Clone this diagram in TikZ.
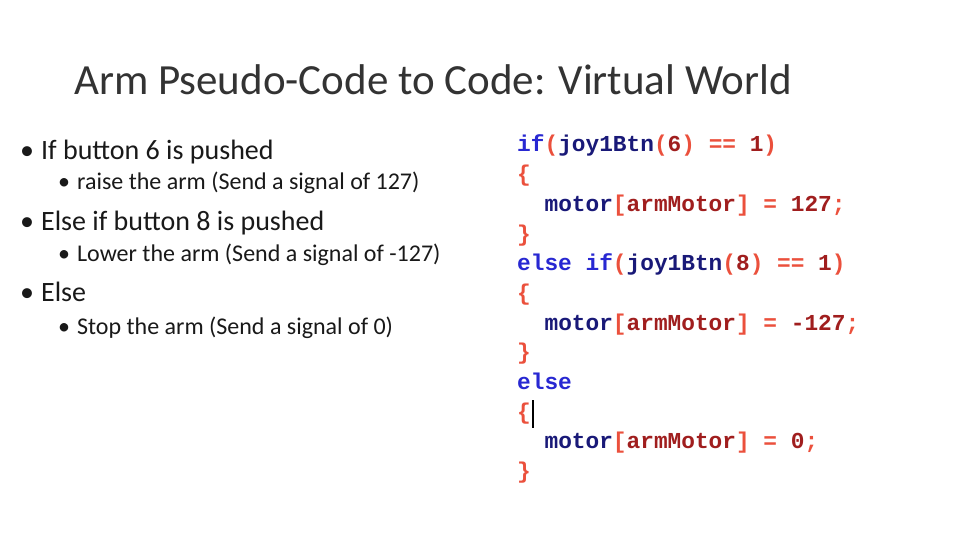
\documentclass[tikz,border=0pt]{standalone}
\usepackage{fontspec}
\setmainfont{Carlito}
\newfontfamily\codefont{Liberation Mono}
\definecolor{kw}{RGB}{40,40,210}
\definecolor{fn}{RGB}{25,25,120}
\definecolor{pu}{RGB}{235,80,60}
\definecolor{nu}{RGB}{160,30,30}
\newcommand{\K}[1]{\textcolor{kw}{#1}}
\newcommand{\F}[1]{\textcolor{fn}{#1}}
\newcommand{\Pu}[1]{\textcolor{pu}{#1}}
\newcommand{\N}[1]{\textcolor{nu}{#1}}
\begin{document}
\begin{tikzpicture}[x=1pt,y=1pt,
  title/.style={anchor=base west,inner sep=0,font=\fontsize{43}{48}\selectfont,text=black!80},
  b1/.style={anchor=base west,inner sep=0,font=\fontsize{28}{32}\selectfont,text=black!90},
  b2/.style={anchor=base west,inner sep=0,font=\fontsize{24}{28}\selectfont,text=black!90},
  code/.style={anchor=base west,inner sep=0,font=\codefont\bfseries\fontsize{22.8}{26}\selectfont}]
\useasboundingbox (0,0) rectangle (960,540);
\fill[white] (0,0) rectangle (960,540);
\node[title] (t) at (74,445) {Arm Pseudo-Code to Code: Virtual World};
\node[b1] (a1) at (20,380) {•\hspace{7pt}If button 6 is pushed};
\node[b2] (a2) at (58,350) {•\hspace{7pt}raise the arm (Send a signal of 127)};
\node[b1] (a3) at (20,309) {•\hspace{7pt}Else if button 8 is pushed};
\node[b2] (a4) at (58,278) {•\hspace{7pt}Lower the arm (Send a signal of -127)};
\node[b1] (a5) at (20,238) {•\hspace{7pt}Else};
\node[b2] (a6) at (58,205) {•\hspace{7pt}Stop the arm (Send a signal of 0)};
\def\cx{517}
\node[code] (c1) at (\cx,388) {\K{if}\Pu{(}\F{joy1Btn}\Pu{(}\N{6}\Pu{)} \Pu{==} \N{1}\Pu{)}};
\node[code] (c2) at (\cx,358.3) {\Pu{\{}};
\node[code] (c3) at (\cx,328.6) {\phantom{xx}\F{motor}\Pu{[}\N{armMotor}\Pu{]} \Pu{=} \N{127}\Pu{;}};
\node[code] (c4) at (\cx,298.9) {\Pu{\}}};
\node[code] (c5) at (\cx,269.2) {\K{else} \K{if}\Pu{(}\F{joy1Btn}\Pu{(}\N{8}\Pu{)} \Pu{==} \N{1}\Pu{)}};
\node[code] (c6) at (\cx,239.5) {\Pu{\{}};
\node[code] (c7) at (\cx,209.8) {\phantom{xx}\F{motor}\Pu{[}\N{armMotor}\Pu{]} \Pu{=} \N{-127}\Pu{;}};
\node[code] (c8) at (\cx,180.1) {\Pu{\}}};
\node[code] (c9) at (\cx,150.4) {\K{else}};
\node[code] (c10) at (\cx,120.7) {\Pu{\{}};
\node[code] (c11) at (\cx,91) {\phantom{xx}\F{motor}\Pu{[}\N{armMotor}\Pu{]} \Pu{=} \N{0}\Pu{;}};
\node[code] (c12) at (\cx,61.3) {\Pu{\}}};
\draw[line width=2pt] (533,112) -- (533,140);
\end{tikzpicture}
\end{document}
